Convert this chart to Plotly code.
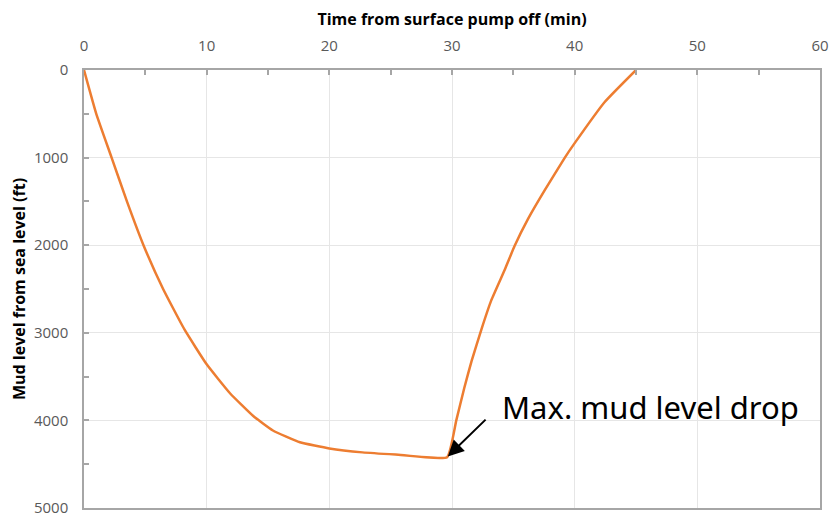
import plotly.graph_objects as go

# Data
time_min = [0, 1.0, 2.25, 3.5, 4.85, 6.45, 8.2, 10.0, 11.9, 13.8, 15.4, 17.6, 20.0, 22.7, 25.4, 29.6,
            30.35, 31.0, 31.6, 32.4, 33.2, 34.3, 35.1, 36.2, 37.55, 39.2, 40.0, 42.45, 45.0]
mud_level_ft = [0, 500, 1000, 1500, 2000, 2500, 2965, 3360, 3690, 3950, 4115, 4250, 4320, 4365, 4390, 4420,
                4000, 3630, 3320, 2960, 2630, 2280, 2010, 1700, 1375, 1000, 835, 365, 0]

x_ticks = [0, 10, 20, 30, 40, 50, 60]
y_ticks = [0, 1000, 2000, 3000, 4000, 5000]

max_drop_t = 29.6
max_drop_d = 4420
annot_text = "Max. mud level drop"

fig = go.Figure()
fig.add_trace(go.Scatter(
    x=time_min, y=mud_level_ft, mode="lines",
    line=dict(color="#ED7D31", width=2.5, shape="spline", smoothing=0.4),
    showlegend=False, hoverinfo="skip"))

axis_common = dict(
    showline=True, linecolor="#A6A6A6", linewidth=1.5, mirror=True,
    showgrid=True, gridcolor="#E6E6E6", gridwidth=1,
    ticks="inside", ticklen=5, tickcolor="#A6A6A6", tickwidth=1.5,
    zeroline=False,
    tickfont=dict(family="Open Sans", size=15, color="#595959"),
)

fig.update_xaxes(
    **axis_common, side="top", range=[0, 60], tickvals=x_ticks,
    minor=dict(dtick=5, ticks="inside", ticklen=5, tickcolor="#A6A6A6", showgrid=False),
    title=dict(text="<b>Time from surface pump off (min)</b>",
               font=dict(family="Open Sans", size=16, color="#000000"), standoff=6),
    ticklabelstandoff=11,
)
fig.update_yaxes(
    **axis_common, range=[5000, 0], tickvals=y_ticks,
    minor=dict(dtick=500, ticks="inside", ticklen=5, tickcolor="#A6A6A6", showgrid=False),
    title=dict(text="<b>Mud level from sea level (ft)</b>",
               font=dict(family="Open Sans", size=16, color="#000000"), standoff=4),
    ticklabelstandoff=11,
)

fig.add_annotation(
    x=max_drop_t, y=max_drop_d, xref="x", yref="y", text="",
    showarrow=True, arrowhead=2, arrowsize=1.6, arrowwidth=2, arrowcolor="#000000",
    ax=40, ay=-39, standoff=1)
fig.add_annotation(
    x=max_drop_t, y=max_drop_d, xref="x", yref="y", text=annot_text,
    showarrow=False, xanchor="left", yanchor="middle", xshift=53, yshift=50,
    font=dict(family="Noto Sans", size=31, color="#000000"))

fig.update_layout(
    width=838, height=526,
    margin=dict(l=84, r=14, t=70, b=9),
    paper_bgcolor="white", plot_bgcolor="white",
)

fig.write_html("out.html")
